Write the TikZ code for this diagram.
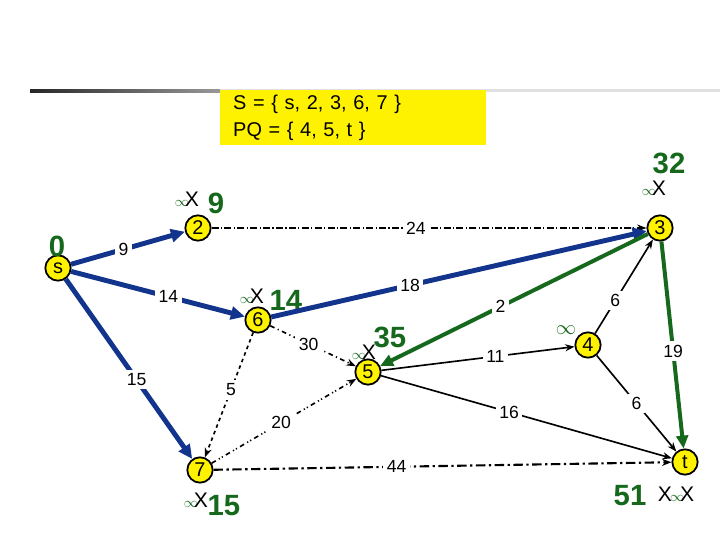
\documentclass[tikz,border=0pt]{standalone}
\usepackage{fontspec}
\setmainfont{Liberation Sans}
\usetikzlibrary{arrows.meta}

\definecolor{edgeblue}{RGB}{18,52,140}
\definecolor{pathgreen}{RGB}{22,104,28}
\definecolor{nodeyellow}{RGB}{255,242,0}
\newcommand{\infx}{\textcolor{pathgreen}{$\scriptstyle\infty$}\kern-3.5pt X}

\begin{document}
\begin{tikzpicture}[x=0.03cm, y=-0.03cm,
  vtx/.style={circle, draw=black, line width=1.5pt, fill=nodeyellow,
              minimum size=0.76cm, inner sep=0pt, font=\fontsize{17}{17}\selectfont},
  wlab/.style={fill=white, inner sep=3pt, font=\fontsize{15}{15}\selectfont},
  dist/.style={text=pathgreen, font=\fontsize{25}{25}\selectfont\bfseries},
  crossmark/.style={font=\fontsize{18}{18}\selectfont, inner sep=0pt},
  setbox/.style={rectangle, fill=yellow, text width=7.2cm, inner xsep=0.39cm,
                 minimum height=1.65cm, align=left,
                 font=\fontsize{17}{23}\selectfont},
  tree/.style={-{Triangle[length=12pt,width=11pt]}, line width=4.2pt, draw=edgeblue},
  short/.style={-{Triangle[length=11pt,width=10pt]}, line width=3.4pt, draw=pathgreen},
  plain/.style={-{Stealth[length=8pt]}, line width=1.4pt}
]
\fill[white] (0,0) rectangle (720,540);
\useasboundingbox (0,0) rectangle (720,540);

% header bar and set box
\fill[black!12] (220,89.5) rectangle (720,92.5);
\shade[left color=black!85, right color=black!40] (30,89.5) rectangle (220,92.5);
\node[setbox, anchor=north west] (sets) at (220,90)
  {S = \{ s, 2, 3, 6, 7 \}\\ PQ = \{ 4, 5, t \}};

% vertices
\node[vtx] (s)  at (58,268)  {s};
\node[vtx] (n2) at (198,228) {2};
\node[vtx] (n3) at (660,228) {3};
\node[vtx] (n6) at (258,320) {6};
\node[vtx] (n5) at (368,372) {5};
\node[vtx] (n4) at (588,345) {4};
\node[vtx] (n7) at (200,470) {7};
\node[vtx] (t)  at (685,462) {t};

% distance labels
\node[dist] (d0) at (57,246) {0};
\node[crossmark] (x2) at (187,199) {\infx};
\node[dist] (d2) at (216,203) {9};
\node[dist] (d3) at (669,163) {32};
\node[crossmark] (x3) at (654,188) {\infx};
\node[crossmark] (x6) at (252,296) {\infx};
\node[dist] (d6) at (286,300) {14};
\node[crossmark] (x5) at (364,352) {\infx};
\node[dist] (d5) at (390,337) {35};
\node[crossmark] (x4) at (566,330) {\textcolor{pathgreen}{$\infty$}};
\node[crossmark] (x7) at (196,500) {\infx};
\node[dist] (d7) at (224,506) {15};
\node[dist] (dt) at (630,496) {51};
\node[crossmark] (xt) at (676,494) {X\kern-1.5pt\textcolor{pathgreen}{$\scriptstyle\infty$}\kern-3.5pt X};

% edges
\draw[plain, line width=0.9pt, dash pattern=on 6pt off 2pt on 1pt off 2pt]
  (n2) -- node[wlab, pos=0.47] {24} (n3);
\draw[plain, line width=1.8pt, dash pattern=on 8pt off 3pt on 2pt off 3pt]
  (n7) -- node[wlab, pos=0.40] {44} (t);
\draw[plain, dashed] (n6) -- node[wlab, pos=0.46] {5} (n7);
\draw[plain, dash pattern=on 4pt off 3pt on 1pt off 3pt]
  (n6) -- node[wlab, pos=0.45] {30} (n5);
\draw[plain, dash pattern=on 4pt off 3pt on 1pt off 2pt on 1pt off 3pt]
  (n7) -- node[wlab, pos=0.48] {20} (n5);
\draw[plain] (n5) -- node[wlab, pos=0.59] {11} (n4);
\draw[plain] (n5) -- node[wlab, pos=0.44] {16} (t);
\draw[plain] (n4) -- node[wlab, pos=0.35] {6} (n3);
\draw[plain] (n4) -- node[wlab, pos=0.50] {6} (t);
\draw[tree] (s) -- node[wlab, pos=0.46] {9} (n2);
\draw[tree] (s) -- node[wlab, pos=0.56] {14} (n6);
\draw[tree] (s) -- node[wlab, pos=0.56] {15} (n7);
\draw[tree] (n6) -- node[wlab, pos=0.37] {18} (n3);
\draw[short] (n3) -- node[wlab, pos=0.55] {2} (n5);
\draw[short] (n3) -- node[wlab, pos=0.53] {19} (t);
\end{tikzpicture}
\end{document}
